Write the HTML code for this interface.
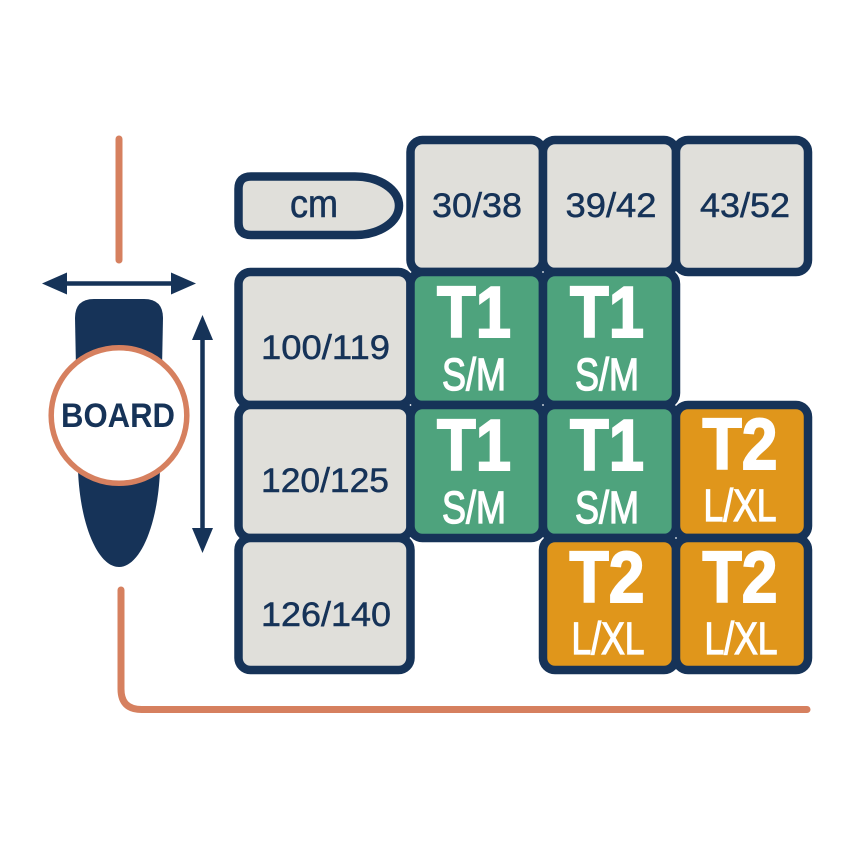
<!DOCTYPE html>
<html><head><meta charset="utf-8"><style>
html,body{margin:0;padding:0;background:#fff;}
svg{display:block;}
text{font-family:"Liberation Sans",sans-serif;}
</style></head><body>
<svg width="850" height="850" viewBox="0 0 850 850" xmlns="http://www.w3.org/2000/svg">
<rect width="850" height="850" fill="#fff"/>
<!-- salmon lines -->
<line x1="119" y1="139" x2="119" y2="260" stroke="#d6805f" stroke-width="7" stroke-linecap="round"/>
<path d="M121,590 L121,689 Q121,709.5 141.5,709.5 L807,709.5" fill="none" stroke="#d6805f" stroke-width="7" stroke-linecap="round"/>
<!-- horizontal double arrow -->
<line x1="64" y1="283.5" x2="174" y2="283.5" stroke="#163358" stroke-width="4.5"/>
<polygon points="42,283.5 67,272.5 67,294.5" fill="#163358"/>
<polygon points="196,283.5 171,272.5 171,294.5" fill="#163358"/>
<!-- vertical double arrow -->
<line x1="202.5" y1="336" x2="202.5" y2="531" stroke="#163358" stroke-width="4.5"/>
<polygon points="202.5,315 192,340 213,340" fill="#163358"/>
<polygon points="202.5,553 192,528 213,528" fill="#163358"/>
<!-- board -->
<path d="M75,318 Q75,299 94,299 L144,299 Q163,299 163,318 L160,470 C158,525 140,567 119,567 C98,567 80,525 78,470 Z" fill="#163358"/>
<circle cx="119" cy="415.5" r="67.8" fill="#fff" stroke="#d6805f" stroke-width="5.5"/>
<text x="118" y="427" text-anchor="middle" font-size="34" font-weight="bold" fill="#163358" textLength="114" lengthAdjust="spacingAndGlyphs">BOARD</text>
<!-- cm cell -->
<path d="M251,176.5 L355,176.5 A44 29.25 0 0 1 399,205.75 A44 29.25 0 0 1 355,235 L251,235 Q238.5,235 238.5,222.5 L238.5,189 Q238.5,176.5 251,176.5 Z" fill="#e0dfda" stroke="#163358" stroke-width="8.5"/>
<text x="314" y="217" text-anchor="middle" font-size="39" fill="#163358" stroke="#163358" stroke-width="0.6" textLength="48" lengthAdjust="spacingAndGlyphs">cm</text>
<g stroke="#163358" stroke-width="8.5">
<!-- header -->
<rect x="410.5" y="140" width="132.5" height="132" rx="12" fill="#e0dfda"/>
<rect x="543" y="140" width="133" height="132" rx="12" fill="#e0dfda"/>
<rect x="676" y="140" width="132" height="132" rx="12" fill="#e0dfda"/>
<!-- label column -->
<rect x="238.5" y="272" width="172" height="133" rx="12" fill="#e0dfda"/>
<rect x="238.5" y="405" width="172" height="133" rx="12" fill="#e0dfda"/>
<rect x="238.5" y="538" width="172" height="132" rx="12" fill="#e0dfda"/>
<!-- row1 -->
<rect x="410.5" y="272" width="132.5" height="133" rx="12" fill="#4ea37d"/>
<rect x="543" y="272" width="133" height="133" rx="12" fill="#4ea37d"/>
<!-- row2 -->
<rect x="410.5" y="405" width="132.5" height="133" rx="12" fill="#4ea37d"/>
<rect x="543" y="405" width="133" height="133" rx="12" fill="#4ea37d"/>
<rect x="676" y="405" width="132" height="133" rx="12" fill="#e0961b"/>
<!-- row3 -->
<rect x="543" y="538" width="133" height="132" rx="12" fill="#e0961b"/>
<rect x="676" y="538" width="132" height="132" rx="12" fill="#e0961b"/>
</g>
<!-- header text -->
<g font-size="34" fill="#163358" stroke="#163358" stroke-width="0.5" text-anchor="middle">
<text x="477" y="217" textLength="90" lengthAdjust="spacingAndGlyphs">30/38</text>
<text x="611" y="217" textLength="91" lengthAdjust="spacingAndGlyphs">39/42</text>
<text x="745" y="217" textLength="90" lengthAdjust="spacingAndGlyphs">43/52</text>
<text x="325.5" y="359" textLength="129" lengthAdjust="spacingAndGlyphs">100/119</text>
<text x="325" y="492" textLength="128" lengthAdjust="spacingAndGlyphs">120/125</text>
<text x="326" y="626" textLength="130" lengthAdjust="spacingAndGlyphs">126/140</text>
</g>
<!-- cell text -->
<g fill="#fff" text-anchor="middle">
<g font-size="72" font-weight="bold" stroke="#fff" stroke-width="2">
<text x="474" y="337" textLength="74" lengthAdjust="spacingAndGlyphs">T1</text>
<text x="607" y="337" textLength="74" lengthAdjust="spacingAndGlyphs">T1</text>
<text x="474" y="470" textLength="74" lengthAdjust="spacingAndGlyphs">T1</text>
<text x="607" y="470" textLength="74" lengthAdjust="spacingAndGlyphs">T1</text>
<text x="740" y="469" textLength="75" lengthAdjust="spacingAndGlyphs">T2</text>
<text x="607" y="602" textLength="75" lengthAdjust="spacingAndGlyphs">T2</text>
<text x="740" y="602" textLength="75" lengthAdjust="spacingAndGlyphs">T2</text>
</g>
<g font-size="45" stroke="#fff" stroke-width="1.3">
<text x="474" y="390" textLength="64" lengthAdjust="spacingAndGlyphs">S/M</text>
<text x="607" y="390" textLength="64" lengthAdjust="spacingAndGlyphs">S/M</text>
<text x="474" y="523" textLength="64" lengthAdjust="spacingAndGlyphs">S/M</text>
<text x="607" y="523" textLength="64" lengthAdjust="spacingAndGlyphs">S/M</text>
<text x="740" y="521" textLength="73" lengthAdjust="spacingAndGlyphs">L/XL</text>
<text x="608" y="654" textLength="73" lengthAdjust="spacingAndGlyphs">L/XL</text>
<text x="741" y="654" textLength="73" lengthAdjust="spacingAndGlyphs">L/XL</text>
</g>
</g>
</svg>
</body></html>
